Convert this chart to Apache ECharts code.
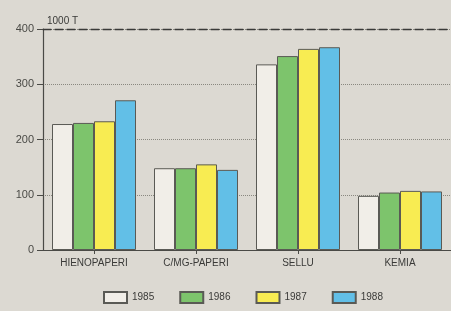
<!DOCTYPE html>
<html>
<head>
<meta charset="utf-8">
<script src="https://cdn.jsdelivr.net/npm/echarts@6/dist/echarts.min.js"></script>
<style>
  html, body { margin: 0; padding: 0; background: #dcd9d2; }
  #main { width: 451px; height: 311px; }
</style>
</head>
<body>
<div id="main"></div>
<script>
// 数据
var categories = ["HIENOPAPERI", "C/MG-PAPERI", "SELLU", "KEMIA"];
var years = ["1985", "1986", "1987", "1988"];
var v1985 = [228, 148, 336, 98];
var v1986 = [230, 148, 351, 104];
var v1987 = [233, 155, 364, 107];
var v1988 = [271, 145, 367, 106];
var yTicks = [0, 100, 200, 300, 400];

var colors = ["#f1eee8", "#7dc46c", "#f8ec52", "#62bfe7"];
var values = [v1985, v1986, v1987, v1988];

var myChart = echarts.init(document.getElementById("main"));
var series = [];
for (var i = 0; i < years.length; i++) {
  series.push({
    name: years[i],
    type: "bar",
    data: values[i],
    barWidth: 21,
    barGap: 0,
    itemStyle: {
      color: colors[i],
      borderColor: "#5a5a55",
      borderWidth: 1
    }
  });
}

var option = {
  backgroundColor: "#dcd9d2",
  animation: false,
  textStyle: { fontFamily: "Liberation Sans, Arial, sans-serif" },
  title: {
    text: "1000 T",
    left: 42,
    top: 11,
    textStyle: { fontSize: 10, fontWeight: "normal", color: "#3a3a38" }
  },
  legend: {
    data: years,
    bottom: 2,
    left: 98,
    itemGap: 25,
    itemWidth: 23,
    itemHeight: 11,
    icon: "rect",
    textStyle: { fontSize: 10, color: "#3a3a38" }
  },
  grid: {
    left: 43,
    right: -8,
    top: 29,
    bottom: 61
  },
  xAxis: [
    {
      type: "category",
      data: categories,
      axisLine: { lineStyle: { color: "#4a4a46", width: 1.2 } },
      axisTick: { show: true, alignWithLabel: true, length: 4, lineStyle: { color: "#4a4a46" } },
      axisLabel: { fontSize: 10, color: "#3a3a38", margin: 8 }
    },
    {
      type: "category",
      position: "top",
      data: categories,
      axisLine: { lineStyle: { color: "#3a3a38", width: 1.4, type: [8, 4] } },
      axisTick: { show: false },
      axisLabel: { show: false }
    }
  ],
  yAxis: {
    type: "value",
    min: 0,
    max: 400,
    interval: 100,
    axisLine: { show: true, lineStyle: { color: "#4a4a46", width: 1.2 } },
    axisTick: { show: true, length: 6, lineStyle: { color: "#4a4a46" } },
    axisLabel: { fontSize: 11, color: "#4a4a46", margin: 9 },
    splitLine: { lineStyle: { color: "#8a8880", type: "dotted", width: 1 } }
  },
  series: series
};
myChart.setOption(option, true);
</script>
</body>
</html>
